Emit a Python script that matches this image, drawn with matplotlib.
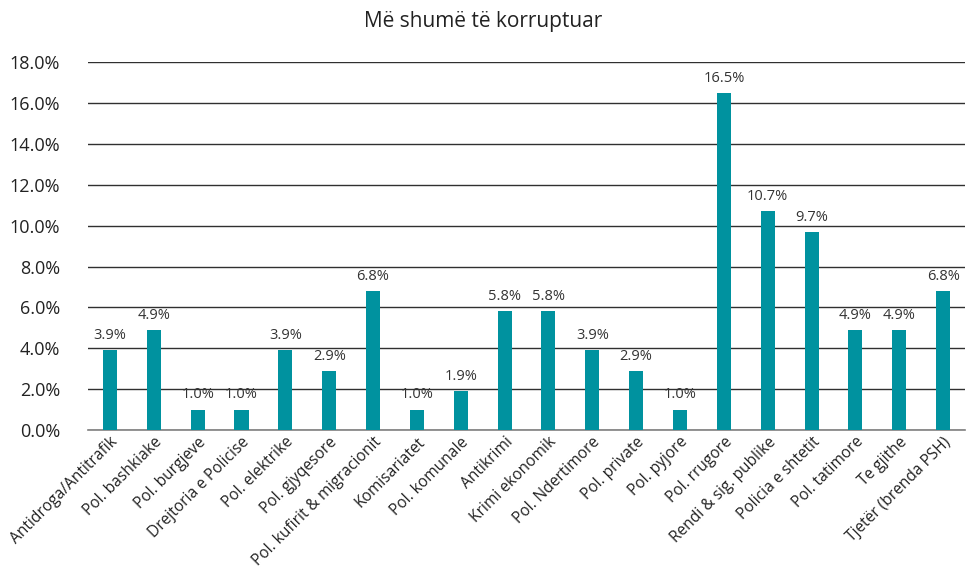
import matplotlib
matplotlib.use('Agg')
import matplotlib.pyplot as plt
import numpy as np

categories = ['Antidroga/Antitrafik', 'Pol. bashkiake', 'Pol. burgjeve', 'Drejtoria e Policise',
              'Pol. elektrike', 'Pol. gjyqesore', 'Pol. kufirit & migracionit', 'Komisariatet',
              'Pol. komunale', 'Antikrimi', 'Krimi ekonomik', 'Pol. Ndertimore', 'Pol. private',
              'Pol. pyjore', 'Pol. rrugore', 'Rendi & sig. publike', 'Policia e shtetit',
              'Pol. tatimore', 'Te gjithe', 'Tjetër (brenda PSH)']
values = [3.9, 4.9, 1.0, 1.0, 3.9, 2.9, 6.8, 1.0, 1.9, 5.8, 5.8, 3.9, 2.9, 1.0, 16.5, 10.7, 9.7, 4.9, 4.9, 6.8]
y_ticks = [0, 2, 4, 6, 8, 10, 12, 14, 16, 18]

plt.rcParams['font.family'] = ['Open Sans', 'DejaVu Sans']

fig = plt.figure(figsize=(9.67, 5.71), dpi=100)
ax = fig.add_axes([0.091, 0.247, 0.907, 0.644])

x = np.arange(len(categories))
ax.bar(x, values, width=0.32, color='#00929f', zorder=3)

for xi, v in zip(x, values):
    ax.text(xi, v + 0.35, f'{v:.1f}%', ha='center', va='bottom', fontsize=10.5, color='#333333')

ax.set_xlim(-0.5, len(categories) - 0.5)
ax.set_ylim(0, 18)
ax.set_yticks(y_ticks)
ax.set_yticklabels([f'{t:.1f}%' for t in y_ticks], fontsize=13, color='#222222')
ax.yaxis.grid(True, color='#303030', linewidth=1.0, zorder=0)
ax.tick_params(axis='y', length=0, pad=20)
ax.tick_params(axis='x', length=0, pad=3)

ax.set_xticks(x)
ax.set_xticklabels(categories, rotation=45, ha='right', rotation_mode='anchor',
                   fontsize=11.2, color='#222222')

for s in ['top', 'right', 'left']:
    ax.spines[s].set_visible(False)
ax.spines['bottom'].set_color('#808080')
ax.spines['bottom'].set_linewidth(1.2)

fig.text(0.5, 0.962, 'Më shumë të korruptuar', ha='center', va='center', fontsize=15, color='#222222')

fig.savefig('out.png', dpi=100)
